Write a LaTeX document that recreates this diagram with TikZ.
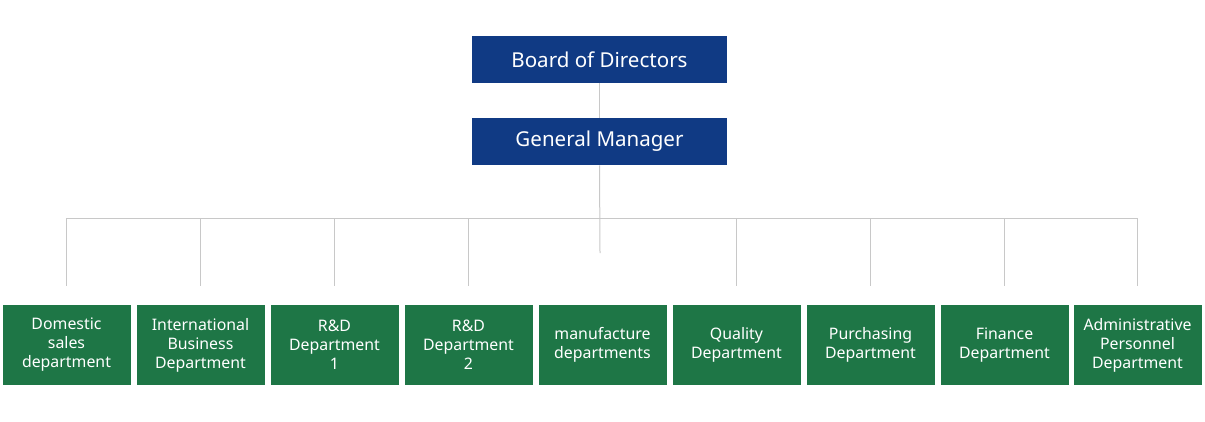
\documentclass[tikz,border=0pt]{standalone}
\usepackage{fontspec}
\setmainfont{Noto Sans}
\usetikzlibrary{positioning}
\definecolor{boardblue}{RGB}{16,58,132}
\definecolor{deptgreen}{RGB}{30,118,70}
\definecolor{linkgray}{RGB}{200,200,200}

\begin{document}
\begin{tikzpicture}[x=0.75pt,y=0.75pt,yscale=-1,xscale=1,
    topbox/.style={fill=boardblue,text=white,inner sep=0pt,minimum width=191.25pt,minimum height=35.25pt,font=\fontsize{15.4}{18}\selectfont},
    deptbox/.style={fill=deptgreen,text=white,inner sep=0pt,minimum width=96pt,minimum height=60pt,align=center,font=\fontsize{11.9}{14.25}\selectfont},
    link/.style={draw=linkgray,line width=0.75pt}]
    \useasboundingbox (0,0) rectangle (1205,421);
    % Top boxes
    \node[topbox] (board) at (599.5,59.5) {Board of Directors};
    \node[topbox] (gm) at (599.5,141.5) {General Manager};
    % Department boxes
    \node[deptbox] (d1) at (66.5,345) {Domestic\\sales\\department};
    \node[deptbox] (d2) at (200.5,345) {International\\Business\\Department};
    \node[deptbox] (d3) at (334.5,345) {R\&D\\Department\\1};
    \node[deptbox] (d4) at (468.5,345) {R\&D\\Department\\2};
    \node[deptbox] (d5) at (602.5,345) {manufacture\\departments};
    \node[deptbox] (d6) at (736.5,345) {Quality\\Department};
    \node[deptbox] (d7) at (870.5,345) {Purchasing\\Department};
    \node[deptbox] (d8) at (1004.5,345) {Finance\\Department};
    \node[deptbox] (d9) at (1137.5,345) {Administrative\\Personnel\\Department};
    % Connectors
    \coordinate (bar) at (600,218);
    \coordinate (stub) at (600,253);
    \draw[link] (board.south) -- (gm.north);
    \draw[link] (gm.south) -- (stub);
    \draw[link] (d1.north |- bar) -- (d9.north |- bar);
    \draw[link,shorten <=14.25pt] (d1.north) -- (d1.north |- bar);
    \draw[link,shorten <=14.25pt] (d2.north) -- (d2.north |- bar);
    \draw[link,shorten <=14.25pt] (d3.north) -- (d3.north |- bar);
    \draw[link,shorten <=14.25pt] (d4.north) -- (d4.north |- bar);
    \draw[link,shorten <=14.25pt] (d6.north) -- (d6.north |- bar);
    \draw[link,shorten <=14.25pt] (d7.north) -- (d7.north |- bar);
    \draw[link,shorten <=14.25pt] (d8.north) -- (d8.north |- bar);
    \draw[link,shorten <=14.25pt] (d9.north) -- (d9.north |- bar);
\end{tikzpicture}
\end{document}
